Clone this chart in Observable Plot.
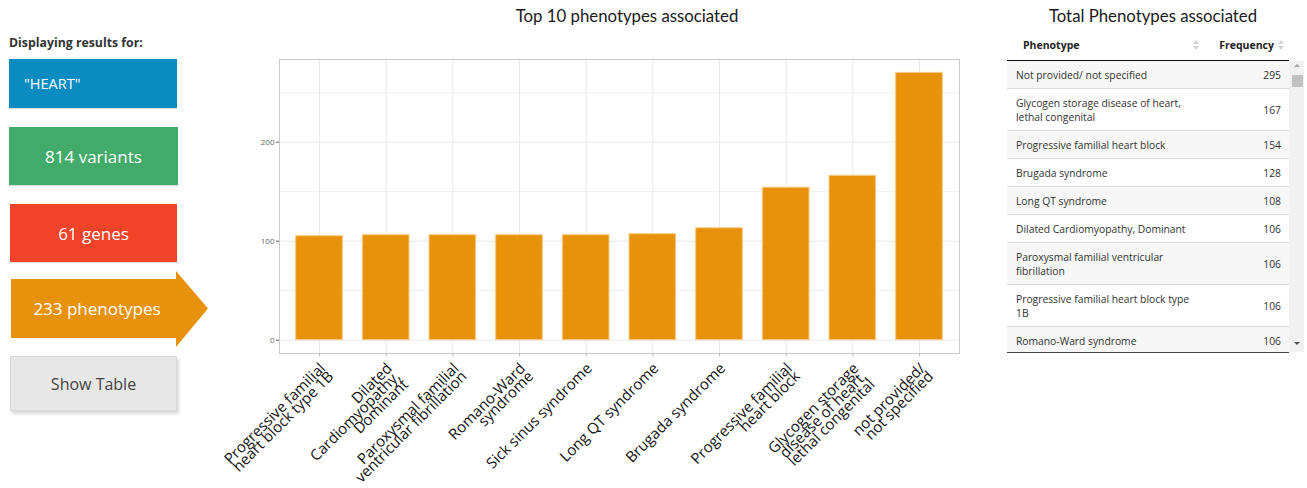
<!DOCTYPE html>
<html><head><meta charset="utf-8">
<script src="https://cdn.jsdelivr.net/npm/d3@7"></script>
<script src="https://cdn.jsdelivr.net/npm/@observablehq/plot@0.6"></script>
<style>
body{margin:0;width:1307px;height:488px;overflow:hidden;background:#fff;font-family:"Open Sans",sans-serif;position:relative}
.abs{position:absolute}
.box{position:absolute;color:#fff;display:flex;align-items:center;justify-content:center;box-shadow:0 1px 1px rgba(0,0,0,0.13)}
.title{position:absolute;font-family:Lato,sans-serif;font-size:16.8px;line-height:22px;color:#1a1a1a;text-align:center;white-space:nowrap}
#tbody{position:absolute;left:1007px;top:61px;width:282px;height:291px;overflow:hidden;border-bottom:1px solid #444}
.row{display:flex;justify-content:space-between;align-items:center;padding:7px 8px 6px 9px;border-bottom:1px solid #dcdcdc;font-size:10.3px;line-height:14px;color:#333}
.row:nth-child(odd){background:#f7f7f7}
.row .n{white-space:pre}
.hdr{position:absolute;font-size:10.5px;font-weight:700;color:#222;line-height:14px}
.sort{position:absolute;width:6px;height:10px}
.sort:before,.sort:after{content:"";position:absolute;left:0;border-left:3px solid transparent;border-right:3px solid transparent}
.sort:before{top:0;border-bottom:4px solid #d4d4d4}
.sort:after{bottom:0;border-top:4px solid #d4d4d4}
</style></head><body>
<div class="abs" style="left:9px;top:35px;font-size:12.3px;font-weight:700;color:#333;line-height:16px">Displaying results for:</div>
<div class="box" style="left:9px;top:59px;width:168px;height:49px;background:#0b8cc0;justify-content:flex-start;padding-left:15px;box-sizing:border-box;font-size:14.5px" id="queryBox"></div>
<div class="box" style="left:9px;top:127px;width:169px;height:58px;background:#42ab6b;font-size:17px" id="varBox"></div>
<div class="box" style="left:10px;top:204px;width:167px;height:58px;background:#f1422a;font-size:17px" id="geneBox"></div>
<svg class="abs" style="left:0;top:0" width="215" height="360"><polygon points="11,279 176,279 176,271 208,308.5 176,347 176,338 11,338" fill="#e8910a"/></svg>
<div class="abs" style="left:11px;top:279px;width:172px;height:59px;display:flex;align-items:center;justify-content:center;color:#fff;font-size:17px" id="phenoBox"></div>
<div class="abs" style="left:10px;top:356px;width:167px;height:55px;background:#e7e7e7;border:1px solid #d8d8d8;box-sizing:border-box;box-shadow:2px 3px 3px rgba(0,0,0,0.15);display:flex;align-items:center;justify-content:center;color:#444;font-size:16px">Show Table</div>

<div class="title" style="left:427px;top:4.5px;width:400px">Top 10 phenotypes associated</div>
<div class="title" style="left:1003px;top:4.5px;width:300px">Total Phenotypes associated</div>

<div id="chart" class="abs" style="left:200px;top:40px"></div>

<div class="abs" style="left:1007px;top:30px;width:282px;height:30px;border-bottom:1px solid #111"></div>
<div class="hdr" style="left:1023px;top:38px">Phenotype</div>
<div class="sort" style="left:1193px;top:40px"></div>
<div class="hdr" style="left:1200px;width:74px;top:38px;text-align:right">Frequency</div>
<div class="sort" style="left:1278px;top:40px"></div>
<div id="tbody"></div>
<div class="abs" style="left:1289px;top:61px;width:15px;height:291px;background:#f1f1f1"></div>
<div class="abs" style="left:1292px;top:75px;width:11px;height:12px;background:#c1c1c1"></div>
<div class="abs" style="left:1294px;top:64px;width:0;height:0;border-left:3px solid transparent;border-right:3px solid transparent;border-bottom:3px solid #a3a3a3"></div>
<div class="abs" style="left:1294px;top:342px;width:0;height:0;border-left:3px solid transparent;border-right:3px solid transparent;border-top:3px solid #505050"></div>

<script>
// ---- data ----
const queryTerm = "HEART";
const nVariants = 814;
const nGenes = 61;
const nPhenotypes = 233;

const phenotypes = [
  "Progressive familial heart block type 1B",
  "Dilated Cardiomyopathy, Dominant",
  "Paroxysmal familial ventricular fibrillation",
  "Romano-Ward syndrome",
  "Sick sinus syndrome",
  "Long QT syndrome",
  "Brugada syndrome",
  "Progressive familial heart block",
  "Glycogen storage disease of heart, lethal congenital",
  "not provided/ not specified"
];
const phenotypeLabels = [
  "Progressive familial\nheart block type 1B",
  "Dilated\nCardiomyopathy,\nDominant",
  "Paroxysmal familial\nventricular fibrillation",
  "Romano-Ward\nsyndrome",
  "Sick sinus syndrome",
  "Long QT syndrome",
  "Brugada syndrome",
  "Progressive familial\nheart block",
  "Glycogen storage\ndisease of heart,\nlethal congenital",
  "not provided/\nnot specified"
];
const counts = [105, 106, 106, 106, 106, 107, 113, 154, 166, 270];
const yTicks = [0, 100, 200];
const yMinor = [50, 150, 250];

const tableNames = [
  "Not provided/ not specified",
  "Glycogen storage disease of heart,\nlethal congenital",
  "Progressive familial heart block",
  "Brugada syndrome",
  "Long QT syndrome",
  "Dilated Cardiomyopathy, Dominant",
  "Paroxysmal familial ventricular\nfibrillation",
  "Progressive familial heart block type\n1B",
  "Romano-Ward syndrome"
];
const tableFreq = [295, 167, 154, 128, 108, 106, 106, 106, 106];

// ---- boxes ----
document.getElementById("queryBox").textContent = `"${queryTerm}"`;
document.getElementById("varBox").textContent = `${nVariants} variants`;
document.getElementById("geneBox").textContent = `${nGenes} genes`;
document.getElementById("phenoBox").textContent = `${nPhenotypes} phenotypes`;

// ---- table ----
const tb = document.getElementById("tbody");
tableNames.forEach((n, i) => {
  const r = document.createElement("div");
  r.className = "row";
  const a = document.createElement("span"); a.className = "n"; a.textContent = n;
  const b = document.createElement("span"); b.textContent = tableFreq[i];
  r.append(a, b);
  tb.append(r);
});

// ---- chart ----
const chart = Plot.plot({
  width: 790,
  height: 448,
  marginLeft: 79,
  marginRight: 31,
  marginTop: 19,
  marginBottom: 135,
  style: {fontFamily: "Open Sans", background: "transparent", overflow: "visible"},
  x: {domain: phenotypes, paddingInner: 0.3, paddingOuter: 0.25, round: false, axis: null},
  y: {domain: [-13.5, 283.5], axis: null},
  marks: [
    Plot.ruleY(yMinor, {stroke: "#efefef"}),
    Plot.ruleY(yTicks, {stroke: "#e7e7e7"}),
    Plot.ruleX(phenotypes, {x: d => d, stroke: "#e9e9e9"}),
    Plot.barY(phenotypes, {x: d => d, y: (d, i) => counts[i], fill: "#e8910a", stroke: "#f7cb85", strokeWidth: 1}),
    Plot.frame({stroke: "#cbcbcb"}),
    Plot.ruleX(phenotypes, {x: d => d, y1: -13.5, y2: -17, stroke: "#bdbdbd"}),
    Plot.axisY({ticks: yTicks, tickSize: 3, tickPadding: 2, fontSize: 8, color: "#666", label: null}),
    Plot.text(phenotypes, {
      x: d => d,
      text: (d, i) => phenotypeLabels[i],
      frameAnchor: "bottom",
      rotate: -45,
      textAnchor: "end",
      lineAnchor: "top",
      lineHeight: 0.76,
      fontSize: 15,
      fill: "#111",
      dx: 1,
      dy: 10
    })
  ]
});
document.getElementById("chart").append(chart);
</script>
</body></html>
